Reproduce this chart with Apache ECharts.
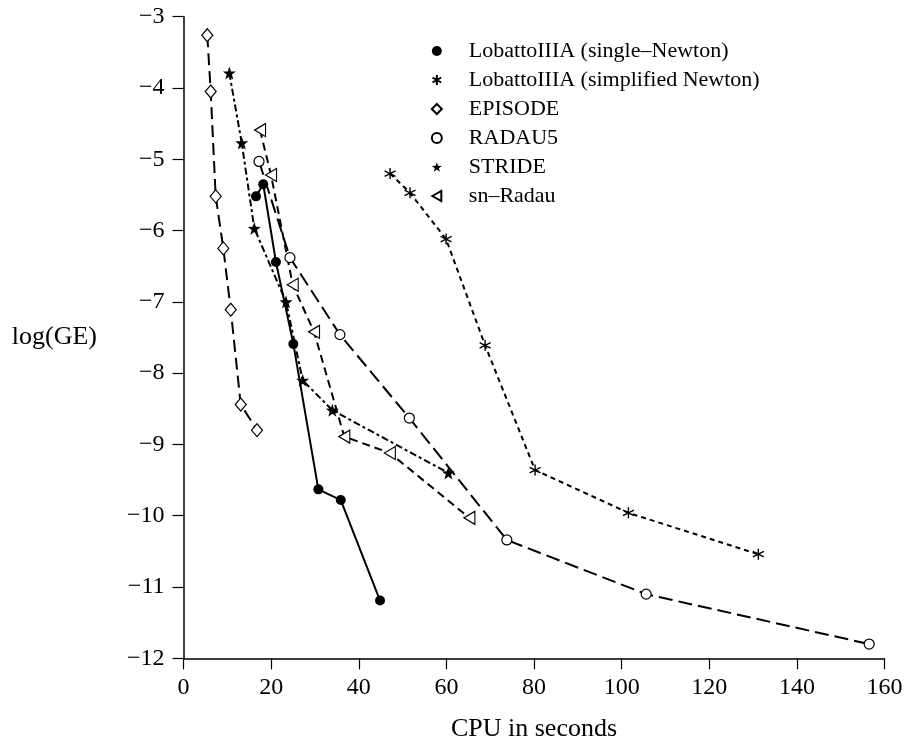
<!DOCTYPE html>
<html>
<head>
<meta charset="utf-8">
<script src="https://cdn.jsdelivr.net/npm/echarts@6/dist/echarts.min.js"></script>
<style>
  html, body { margin: 0; padding: 0; background: #fff; }
  #chart { width: 909px; height: 744px; }
</style>
</head>
<body>
<div id="chart"></div>
<script>
// CPU time (s) and log(GE)
const lobattoSingleX = [16.55, 18.2, 21.1, 25.07, 30.78, 35.9, 44.86];
const lobattoSingleY = [-5.52, -5.35, -6.44, -7.59, -9.63, -9.78, -11.19];
const lobattoSimpX = [47.15, 51.7, 59.93, 68.84, 80.25, 101.55, 131.2];
const lobattoSimpY = [-5.20, -5.47, -6.12, -7.61, -9.36, -9.96, -10.54];
const episodeX = [5.43, 6.21, 7.35, 9.09, 10.78, 13.06, 16.78];
const episodeY = [-3.26, -4.05, -5.52, -6.25, -7.11, -8.44, -8.80];
const radau5X = [17.24, 24.3, 35.7, 51.55, 73.8, 105.6, 156.5];
const radau5Y = [-5.03, -6.38, -7.46, -8.63, -10.34, -11.10, -11.80];
const strideX = [10.46, 13.29, 16.16, 23.4, 27.2, 33.97, 60.46];
const strideY = [-3.79, -4.77, -5.97, -7.00, -8.10, -8.52, -9.40];
const snRadauX = [17.47, 19.98, 24.93, 29.79, 36.7, 47.1, 65.25];
const snRadauY = [-4.59, -5.22, -6.76, -7.42, -8.89, -9.12, -10.03];

const xTicks = [0, 20, 40, 60, 80, 100, 120, 140, 160];
const yTicks = [-12, -11, -10, -9, -8, -7, -6, -5, -4, -3];

const names = [
    'LobattoIIIA (single–Newton)',
    'LobattoIIIA (simplified Newton)',
    'EPISODE',
    'RADAU5',
    'STRIDE',
    'sn–Radau'
];

const asterisk = 'path://M0,-10 L0,10 M-8.66,-5 L8.66,5 M-8.66,5 L8.66,-5';
const star = 'path://M0,-10 L2.35,-3.24 L9.51,-3.09 L3.8,1.24 L5.88,8.09 L0,4 L-5.88,8.09 L-3.8,1.24 L-9.51,-3.09 L-2.35,-3.24 Z';
const triLeft = 'path://M0,5 L9,0 L9,10 Z';

function pairs(xs, ys) {
    return xs.map((x, i) => [x, ys[i]]);
}

function minus(v) {
    return v < 0 ? '\u2212' + Math.abs(v) : String(v);
}

const font = 'Liberation Serif';

const chart = echarts.init(document.getElementById('chart'));

const option = {
    backgroundColor: '#fff',
    animation: false,
    grid: {
        left: 183.5,
        right: 24.5,
        top: 16.7,
        bottom: 85.7,
        outerBoundsMode: 'none',
        containLabel: false
    },
    legend: {
        orient: 'vertical',
        left: 425,
        top: 35,
        itemWidth: 10,
        itemHeight: 10,
        itemGap: 7,
        textStyle: {
            fontFamily: font,
            fontSize: 22,
            lineHeight: 22,
            color: '#000',
            padding: [0, 0, 0, 22]
        },
        data: [
            { name: names[0], icon: 'circle' },
            { name: names[1], icon: asterisk },
            { name: names[2], icon: 'diamond' },
            { name: names[3], icon: 'circle' },
            { name: names[4], icon: star },
            { name: names[5], icon: triLeft }
        ]
    },
    xAxis: {
        type: 'value',
        min: 0,
        max: 160,
        interval: 20,
        name: 'CPU in seconds',
        nameLocation: 'middle',
        nameGap: 58,
        nameTextStyle: { fontFamily: font, fontSize: 26, color: '#000' },
        axisLine: { show: true, onZero: false, lineStyle: { color: '#000', width: 1.5 } },
        axisTick: { show: true, inside: false, length: 11, lineStyle: { color: '#000', width: 1.2 } },
        axisLabel: {
            margin: 17,
            fontFamily: font,
            fontSize: 24,
            color: '#000',
            formatter: v => xTicks.includes(v) ? minus(v) : ''
        },
        splitLine: { show: false }
    },
    yAxis: {
        type: 'value',
        min: -12,
        max: -3,
        interval: 1,
        name: 'log(GE)',
        nameLocation: 'middle',
        nameRotate: 0,
        nameGap: 86.5,
        nameTextStyle: { fontFamily: font, fontSize: 26, color: '#000' },
        axisLine: { show: true, onZero: false, lineStyle: { color: '#000', width: 1.5 } },
        axisTick: { show: true, inside: false, length: 11, lineStyle: { color: '#000', width: 1.2 } },
        axisLabel: {
            margin: 19,
            fontFamily: font,
            fontSize: 24,
            color: '#000',
            formatter: v => yTicks.includes(v) ? minus(v) : ''
        },
        splitLine: { show: false }
    },
    series: [
        {
            name: names[0],
            type: 'line',
            data: pairs(lobattoSingleX, lobattoSingleY),
            symbol: 'circle',
            symbolSize: 10,
            lineStyle: { color: '#000', width: 2, type: 'solid' },
            itemStyle: { color: '#000' }
        },
        {
            name: names[1],
            type: 'line',
            data: pairs(lobattoSimpX, lobattoSimpY),
            symbol: asterisk,
            symbolSize: 11,
            lineStyle: { color: '#000', width: 2, type: [5, 4] },
            itemStyle: { color: 'none', borderColor: '#000', borderWidth: 1.4 }
        },
        {
            name: names[2],
            type: 'line',
            data: pairs(episodeX, episodeY),
            symbol: 'diamond',
            symbolSize: [11, 13],
            lineStyle: { color: '#000', width: 2, type: [12, 6] },
            itemStyle: { color: '#fff', borderColor: '#000', borderWidth: 1.2 }
        },
        {
            name: names[3],
            type: 'line',
            data: pairs(radau5X, radau5Y),
            symbol: 'circle',
            symbolSize: 10,
            lineStyle: { color: '#000', width: 2, type: [14, 6] },
            itemStyle: { color: '#fff', borderColor: '#000', borderWidth: 1.2 }
        },
        {
            name: names[4],
            type: 'line',
            data: pairs(strideX, strideY),
            symbol: star,
            symbolSize: 13,
            lineStyle: { color: '#000', width: 2, type: [7, 3, 3, 3] },
            itemStyle: { color: '#000' }
        },
        {
            name: names[5],
            type: 'line',
            data: pairs(snRadauX, snRadauY),
            symbol: triLeft,
            symbolSize: [11, 13],
            lineStyle: { color: '#000', width: 2, type: [8, 5] },
            itemStyle: { color: '#fff', borderColor: '#000', borderWidth: 1.2 }
        }
    ]
};

chart.setOption(option);
window.addEventListener('resize', chart.resize);
</script>
</body>
</html>
